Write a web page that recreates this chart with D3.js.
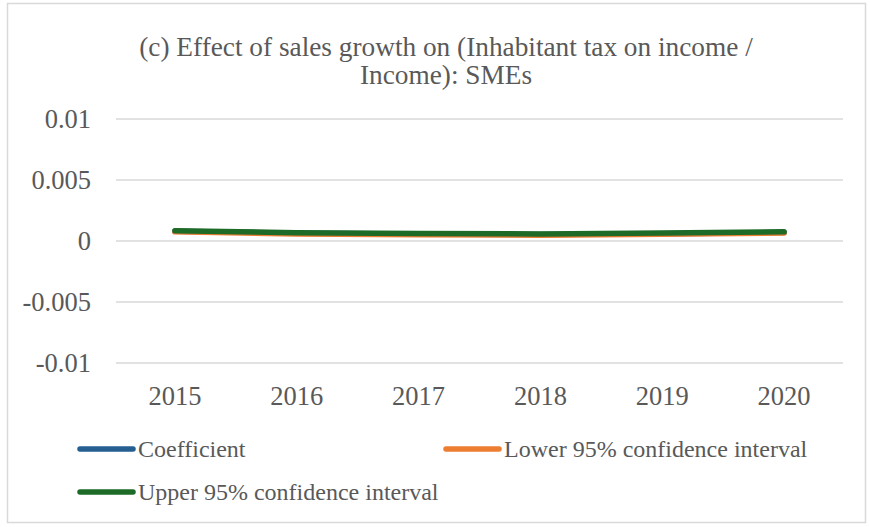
<!DOCTYPE html>
<html><head><meta charset="utf-8">
<script src="https://cdn.jsdelivr.net/npm/d3@7"></script>
<style>body{margin:0;background:#fff;} text{font-family:"Liberation Serif","Times New Roman",serif;}</style>
</head><body>
<svg id="c" width="870" height="527"></svg>
<script>
const years = ["2015","2016","2017","2018","2019","2020"];
const coefficient = [0.00080, 0.00063, 0.00057, 0.00053, 0.00060, 0.00070];
const lower95 = [0.00075, 0.00058, 0.00052, 0.00048, 0.00055, 0.00065];
const upper95 = [0.00085, 0.00068, 0.00062, 0.00058, 0.00065, 0.00075];
const yTicks = [0.01, 0.005, 0, -0.005, -0.01];
const yTickLabels = ["0.01","0.005","0","-0.005","-0.01"];
const seriesNames = ["Coefficient","Lower 95% confidence interval","Upper 95% confidence interval"];
const colors = ["#255E91","#ED7D31","#1E6B28"];

const svg = d3.select("#c");
svg.append("rect").attr("x",7.5).attr("y",3.5).attr("width",858).attr("height",519)
  .attr("fill","#fff").attr("stroke","#d9d9d9").attr("stroke-width",1.5);

const x = d3.scaleBand().domain(years).range([114,845]);
const y = d3.scaleLinear().domain([-0.01,0.01]).range([363,119]);

// title
const title = svg.append("text").attr("text-anchor","middle").attr("fill","#595959").attr("font-size",27.3);
title.append("tspan").attr("x",446).attr("y",56).text("(c) Effect of sales growth on (Inhabitant tax on income /");
title.append("tspan").attr("x",446).attr("y",84).text("Income): SMEs");

// grid
svg.append("g").selectAll("line").data(yTicks).join("line")
  .attr("x1",116).attr("x2",843).attr("y1",d=>y(d)).attr("y2",d=>y(d))
  .attr("stroke","#d9d9d9").attr("stroke-width",1.3);

// y labels
svg.append("g").selectAll("text").data(yTicks).join("text")
  .attr("x",91).attr("y",d=>y(d)).attr("dy","0.35em").attr("text-anchor","end")
  .attr("fill","#595959").attr("font-size",26.5).text((d,i)=>yTickLabels[i]);

// x labels
svg.append("g").selectAll("text").data(years).join("text")
  .attr("x",d=>x(d)+x.bandwidth()/2).attr("y",396).attr("dy","0.35em").attr("text-anchor","middle")
  .attr("fill","#595959").attr("font-size",26.5).text(d=>d);

const line = d3.line().x((d,i)=>x(years[i])+x.bandwidth()/2).y(d=>y(d));
const data = [coefficient, lower95, upper95];
data.forEach((s,i)=>{
  svg.append("path").datum(s).attr("d",line).attr("fill","none")
    .attr("stroke",colors[i]).attr("stroke-width",5.5).attr("stroke-linecap","round").attr("stroke-linejoin","round");
});

// legend
const legPos = [[80,449],[446,449],[80,492]];
seriesNames.forEach((n,i)=>{
  const [lx,ly] = legPos[i];
  svg.append("line").attr("x1",lx).attr("x2",lx+53).attr("y1",ly).attr("y2",ly)
    .attr("stroke",colors[i]).attr("stroke-width",5.5).attr("stroke-linecap","round");
  svg.append("text").attr("x",lx+58).attr("y",ly).attr("dy","0.35em")
    .attr("fill","#595959").attr("font-size",24).text(n);
});
</script>
</body></html>
